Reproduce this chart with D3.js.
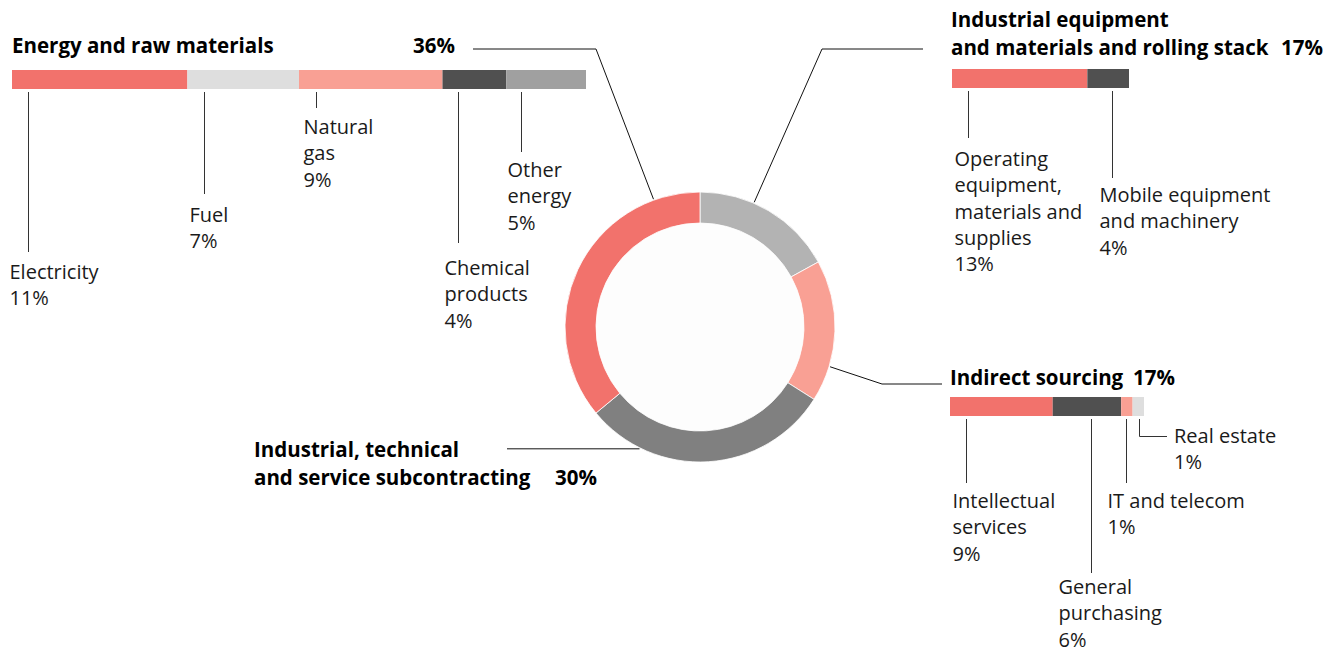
<!DOCTYPE html>
<html>
<head>
<meta charset="utf-8">
<script src="https://cdn.jsdelivr.net/npm/d3@7"></script>
<style>
  html, body { margin: 0; padding: 0; background: #fff; }
  svg { display: block; font-family: "Open Sans", sans-serif; }
  .lbl { font-size: 20px; fill: #1a1a1a; }
  .ttl { font-size: 20.5px; font-weight: 700; fill: #000; }
</style>
</head>
<body>
<svg id="chart" width="1337" height="652" viewBox="0 0 1337 652"></svg>
<script>
// donut groups, clockwise from 12 o'clock
const groupNames = [
  "Industrial equipment\nand materials and rolling stack",
  "Indirect sourcing",
  "Industrial, technical\nand service subcontracting",
  "Energy and raw materials",
];
const groupShares = [17, 17, 30, 36];

const energyItems = ["Electricity", "Fuel", "Natural\ngas", "Chemical\nproducts", "Other\nenergy"];
const energyShares = [11, 7, 9, 4, 5];

const equipmentItems = ["Operating\nequipment,\nmaterials and\nsupplies", "Mobile equipment\nand machinery"];
const equipmentShares = [13, 4];

const indirectItems = ["Intellectual\nservices", "General\npurchasing", "IT and telecom", "Real estate"];
const indirectShares = [9, 6, 1, 1];

const svg = d3.select("#chart");
const lineH = 26.3;

// ---- donut ----
const cx = 700, cy = 327, rOuter = 135, rInner = 104;
const donutColors = ["#b3b3b3", "#f9a094", "#808080", "#f2726c"];
const pie = d3.pie().sort(null).value((d) => d);
const arc = d3.arc().innerRadius(rInner).outerRadius(rOuter);

const donut = svg.append("g").attr("transform", `translate(${cx},${cy})`);
donut.append("circle").attr("r", rInner).attr("fill", "#fdfdfd");
donut
  .selectAll("path")
  .data(pie(groupShares))
  .join("path")
  .attr("d", arc)
  .attr("fill", (d, i) => donutColors[i])
  .attr("stroke", "#fff")
  .attr("stroke-width", 0.8);

function rim(deg, r = rOuter + 1) {
  const a = (deg * Math.PI) / 180;
  return [cx + r * Math.sin(a), cy - r * Math.cos(a)];
}

const leaders = svg.append("g").attr("fill", "none").attr("stroke", "#111").attr("stroke-width", 1);
const line = d3.line();
leaders.append("path").attr("d", line([[473, 49], [596, 49], rim(-20)]));
leaders.append("path").attr("d", line([[923, 49], [822, 49], rim(23.5)]));
leaders.append("path").attr("d", line([rim(107), [882, 384], [942, 384]]));
const subPt = rim(206.4);
leaders.append("path").attr("d", line([[507, subPt[1]], subPt]));

// ---- text helper ----
function multiline(g, text, x, y, cls, anchor = "start") {
  const t = g
    .append("text")
    .attr("class", cls)
    .attr("x", x)
    .attr("y", y)
    .attr("text-anchor", anchor);
  text.split("\n").forEach((s, i) => {
    t.append("tspan").attr("x", x).attr("dy", i === 0 ? 0 : 28).text(s);
  });
  return t;
}

// ---- stacked bars ----
function drawBar(cfg, items, shares) {
  const g = svg.append("g");
  const x = d3.scaleLinear().domain([0, d3.sum(shares)]).range([cfg.x0, cfg.x1]);
  const starts = d3.cumsum([0, ...shares]).slice(0, shares.length);
  const rows = items.map((name, i) => ({ name, value: shares[i], start: starts[i], i }));

  g.selectAll("rect")
    .data(rows)
    .join("rect")
    .attr("x", (d) => x(d.start))
    .attr("y", cfg.y)
    .attr("width", (d) => x(d.start + d.value) - x(d.start))
    .attr("height", 19)
    .attr("fill", (d) => cfg.colors[d.i]);

  rows.forEach((d) => {
    const lx = Math.round(x(d.start) + cfg.lead[d.i]) + 0.5;
    const l = cfg.labels[d.i];
    const pts = [[lx, cfg.y + 22], [lx, l.end]];
    if (l.hook) pts.push([l.hook, l.end]);
    g.append("path")
      .attr("d", line(pts))
      .attr("fill", "none")
      .attr("stroke", "#333")
      .attr("stroke-width", 1);
    const tx = l.tx != null ? l.tx : lx + l.dx;
    const lines = d.name.split("\n").concat(`${d.value}%`);
    const t = g.append("text").attr("class", "lbl").attr("x", tx).attr("y", l.ty);
    lines.forEach((s, k) => {
      t.append("tspan").attr("x", tx).attr("dy", k === 0 ? 0 : lineH).text(s);
    });
  });
}

drawBar(
  {
    x0: 12, x1: 586, y: 70,
    colors: ["#f2726c", "#dedede", "#f9a094", "#505050", "#a0a0a0"],
    lead: [16, 17, 17, 15.5, 15],
    labels: [
      { end: 252, dx: -19, ty: 279 },
      { end: 194, dx: -15, ty: 222 },
      { end: 108, dx: -13, ty: 134 },
      { end: 243, dx: -14, ty: 275 },
      { end: 152, dx: -14, ty: 177 },
    ],
  },
  energyItems,
  energyShares
);

drawBar(
  {
    x0: 952, x1: 1129, y: 69,
    colors: ["#f2726c", "#505050"],
    lead: [16, 24.5],
    labels: [
      { end: 138, dx: -14, ty: 166 },
      { end: 178, dx: -13, ty: 202 },
    ],
  },
  equipmentItems,
  equipmentShares
);

drawBar(
  {
    x0: 950, x1: 1144, y: 397,
    colors: ["#f2726c", "#505050", "#f9a094", "#dedede"],
    lead: [16, 38, 5, 6.5],
    labels: [
      { end: 483, dx: -14, ty: 508 },
      { end: 573, dx: -33, ty: 594 },
      { end: 483, dx: -19, ty: 508 },
      { end: 436.5, hook: 1167, tx: 1174, ty: 443 },
    ],
  },
  indirectItems,
  indirectShares
);

// ---- group titles ----
const titles = svg.append("g");
multiline(titles, groupNames[3], 12, 53, "ttl");
multiline(titles, `${groupShares[3]}%`, 455, 53, "ttl", "end");

multiline(titles, groupNames[0], 951, 27, "ttl");
multiline(titles, `${groupShares[0]}%`, 1323, 55, "ttl", "end");

multiline(titles, groupNames[1], 950, 385, "ttl");
multiline(titles, `${groupShares[1]}%`, 1133, 385, "ttl");

multiline(titles, groupNames[2], 254, 457, "ttl");
multiline(titles, `${groupShares[2]}%`, 597, 485, "ttl", "end");
</script>
</body>
</html>
